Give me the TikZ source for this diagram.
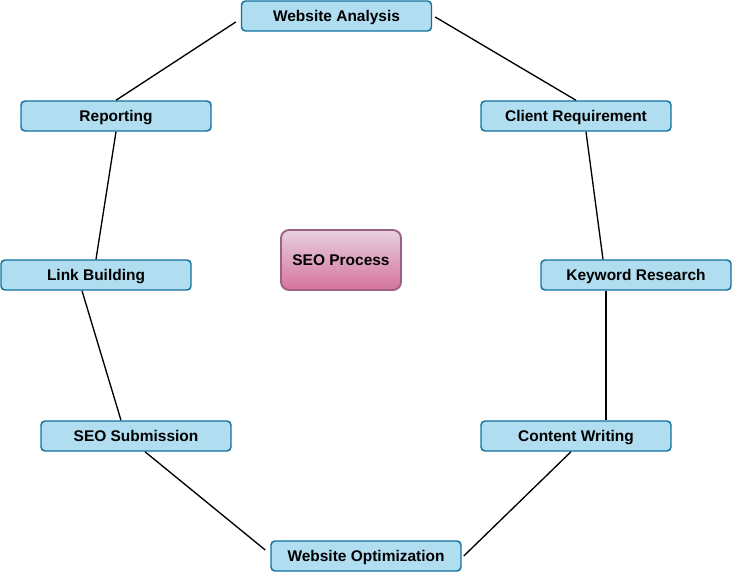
\documentclass[tikz,border=0pt]{standalone}
\usepackage{fontspec}
\setmainfont{Liberation Sans}
\usetikzlibrary{calc}
\definecolor{bfill}{HTML}{B1DDF0}
\definecolor{bline}{HTML}{10739E}
\definecolor{ptop}{HTML}{E6D0DE}
\definecolor{pbot}{HTML}{D5739D}
\definecolor{pline}{HTML}{996185}
\begin{document}
\begin{tikzpicture}[x=0.75pt,y=-0.75pt,
  stepbox/.style={draw=bline,fill=bfill,line width=1.1pt,rounded corners=3pt,
    minimum width=142.5pt,minimum height=22.5pt,inner sep=0pt,
    text height=8.3pt,text depth=0pt,
    font=\fontsize{11.6pt}{13pt}\selectfont\bfseries},
  centerbox/.style={draw=pline,top color=ptop,bottom color=pbot,line width=1.4pt,rounded corners=6pt,
    minimum width=90pt,minimum height=45pt,inner sep=0pt,
    text height=8.3pt,text depth=0pt,
    font=\fontsize{11.6pt}{13pt}\selectfont\bfseries},
  link/.style={draw=black,line width=1pt}]
\useasboundingbox (0,0) rectangle (732,572);
\node[stepbox] (wa) at (336.5,16) {Website Analysis};
\node[stepbox] (cr) at (576,116) {Client Requirement};
\node[stepbox] (kr) at (636,275) {Keyword Research};
\node[stepbox] (cw) at (576,436) {Content Writing};
\node[stepbox] (wo) at (366,556) {Website Optimization};
\node[stepbox] (ss) at (136,436) {SEO Submission};
\node[stepbox] (lb) at (96,275) {Link Building};
\node[stepbox] (rp) at (116,116) {Reporting};
\node[centerbox] (seo) at (341,260) {SEO Process};
\draw[link] ($(wa.west)+(-5,6)$) -- (rp.north);
\draw[link] (rp.south) -- (lb.north);
\draw[link] ($(lb.south)+(-14,0)$) -- ($(ss.north)+(-15,0)$);
\draw[link] ($(ss.south)+(9,0)$) -- ($(wo.west)+(-5,-6)$);
\draw[link] ($(wo.east)+(2,0)$) -- ($(cw.south)+(-5,0)$);
\draw[link] ($(cw.north)+(30,0)$) -- ($(kr.south)+(-30,0)$);
\draw[link] ($(kr.north)+(-33,0)$) -- ($(cr.south)+(10,0)$);
\draw[link] (cr.north) -- ($(wa.east)+(3,1)$);
\end{tikzpicture}
\end{document}
